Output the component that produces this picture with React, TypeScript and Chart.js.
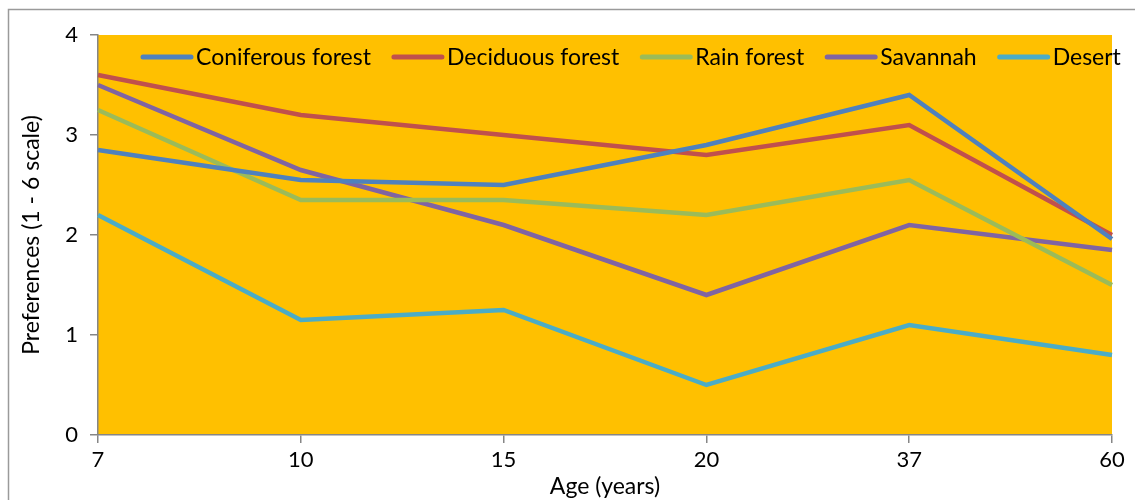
import React, { useEffect, useRef } from "react";
import { Chart, registerables } from "chart.js";

Chart.register(...registerables);

const categories = ["7", "10", "15", "20", "37", "60"];
const seriesNames = ["Coniferous forest", "Deciduous forest", "Rain forest", "Savannah", "Desert"];
const coniferous = [2.85, 2.55, 2.5, 2.9, 3.4, 1.96];
const deciduous = [3.6, 3.2, 3.0, 2.8, 3.1, 2.0];
const rainForest = [3.25, 2.35, 2.35, 2.2, 2.55, 1.5];
const savannah = [3.5, 2.65, 2.1, 1.4, 2.1, 1.85];
const desert = [2.2, 1.15, 1.25, 0.5, 1.1, 0.8];
const seriesColors = ["#4F81BD", "#C0504D", "#9BBB59", "#8064A2", "#4BACC6"];
const yTicks = [0, 1, 2, 3, 4];

const FONT = "Lato";

const bgPlugin = {
  id: "bgPlugin",
  beforeDraw(chart: any) {
    const { ctx, chartArea } = chart;
    ctx.save();
    ctx.fillStyle = "#ffffff";
    ctx.fillRect(0, 0, chart.width, chart.height);
    ctx.strokeStyle = "#9a9a9a";
    ctx.lineWidth = 1.5;
    ctx.strokeRect(8.5, 9.5, chart.width + 20, chart.height + 20);
    ctx.fillStyle = "#FFC000";
    ctx.fillRect(chartArea.left, chartArea.top, chartArea.right - chartArea.left, chartArea.bottom - chartArea.top);
    ctx.restore();
  },
};

const legendPlugin = {
  id: "insideLegend",
  afterDatasetsDraw(chart: any) {
    const { ctx } = chart;
    ctx.save();
    ctx.font = `23px ${FONT}`;
    ctx.textBaseline = "middle";
    let x = 141;
    const y = 57;
    chart.data.datasets.forEach((ds: any) => {
      ctx.strokeStyle = ds.borderColor;
      ctx.lineWidth = 5;
      ctx.lineCap = "round";
      ctx.beginPath();
      ctx.moveTo(x + 2, y);
      ctx.lineTo(x + 50, y);
      ctx.stroke();
      ctx.fillStyle = "#000";
      ctx.fillText(ds.label, x + 55, y + 1);
      x += 55 + ctx.measureText(ds.label).width + 21;
    });
    ctx.restore();
  },
};

export default function App() {
  const ref = useRef<HTMLCanvasElement>(null);
  useEffect(() => {
    const values = [coniferous, deciduous, rainForest, savannah, desert];
    const chart = new Chart(ref.current!, {
      type: "line",
      data: {
        labels: categories,
        datasets: seriesNames.map((name, i) => ({
          label: name,
          data: values[i],
          borderColor: seriesColors[i],
          backgroundColor: seriesColors[i],
          borderWidth: 4.5,
          pointRadius: 0,
          tension: 0,
        })),
      },
      options: {
        animation: false,
        responsive: false,
        maintainAspectRatio: false,
        layout: { padding: { left: 0, right: 23, top: 35, bottom: 0 } },
        plugins: { legend: { display: false }, tooltip: { enabled: false } },
        scales: {
          x: {
            offset: false,
            afterFit(scale: any) { scale.height = 65; },
            grid: { drawOnChartArea: false, drawTicks: true, tickLength: 8, color: "#868686", lineWidth: 1.5 },
            border: { color: "#868686", width: 1.5 },
            ticks: { color: "#000", font: { family: FONT, size: 22 }, maxRotation: 0, padding: 4 },
            title: { display: true, text: "Age (years)", color: "#000", font: { family: FONT, size: 23 }, padding: { top: 0, bottom: 0 } },
          },
          y: {
            min: 0,
            max: 4,
            afterFit(scale: any) { scale.width = 98; },
            afterBuildTicks(scale: any) { scale.ticks = yTicks.map((v) => ({ value: v })); },
            grid: { drawOnChartArea: false, drawTicks: true, tickLength: 8, color: "#868686", lineWidth: 1.5 },
            border: { color: "#868686", width: 1.5 },
            ticks: { color: "#000", font: { family: FONT, size: 22 }, padding: 12 },
            title: { display: true, text: "Preferences (1 - 6 scale)", color: "#000", font: { family: FONT, size: 23 }, padding: { top: 18, bottom: 0 } },
          },
        },
      },
      plugins: [bgPlugin, legendPlugin],
    });
    return () => chart.destroy();
  }, []);
  return (
    <div style={{ position: "fixed", left: 0, top: 0, width: 1135, height: 500 }}>
      <canvas ref={ref} width={1135} height={500} style={{ display: "block" }} />
    </div>
  );
}
